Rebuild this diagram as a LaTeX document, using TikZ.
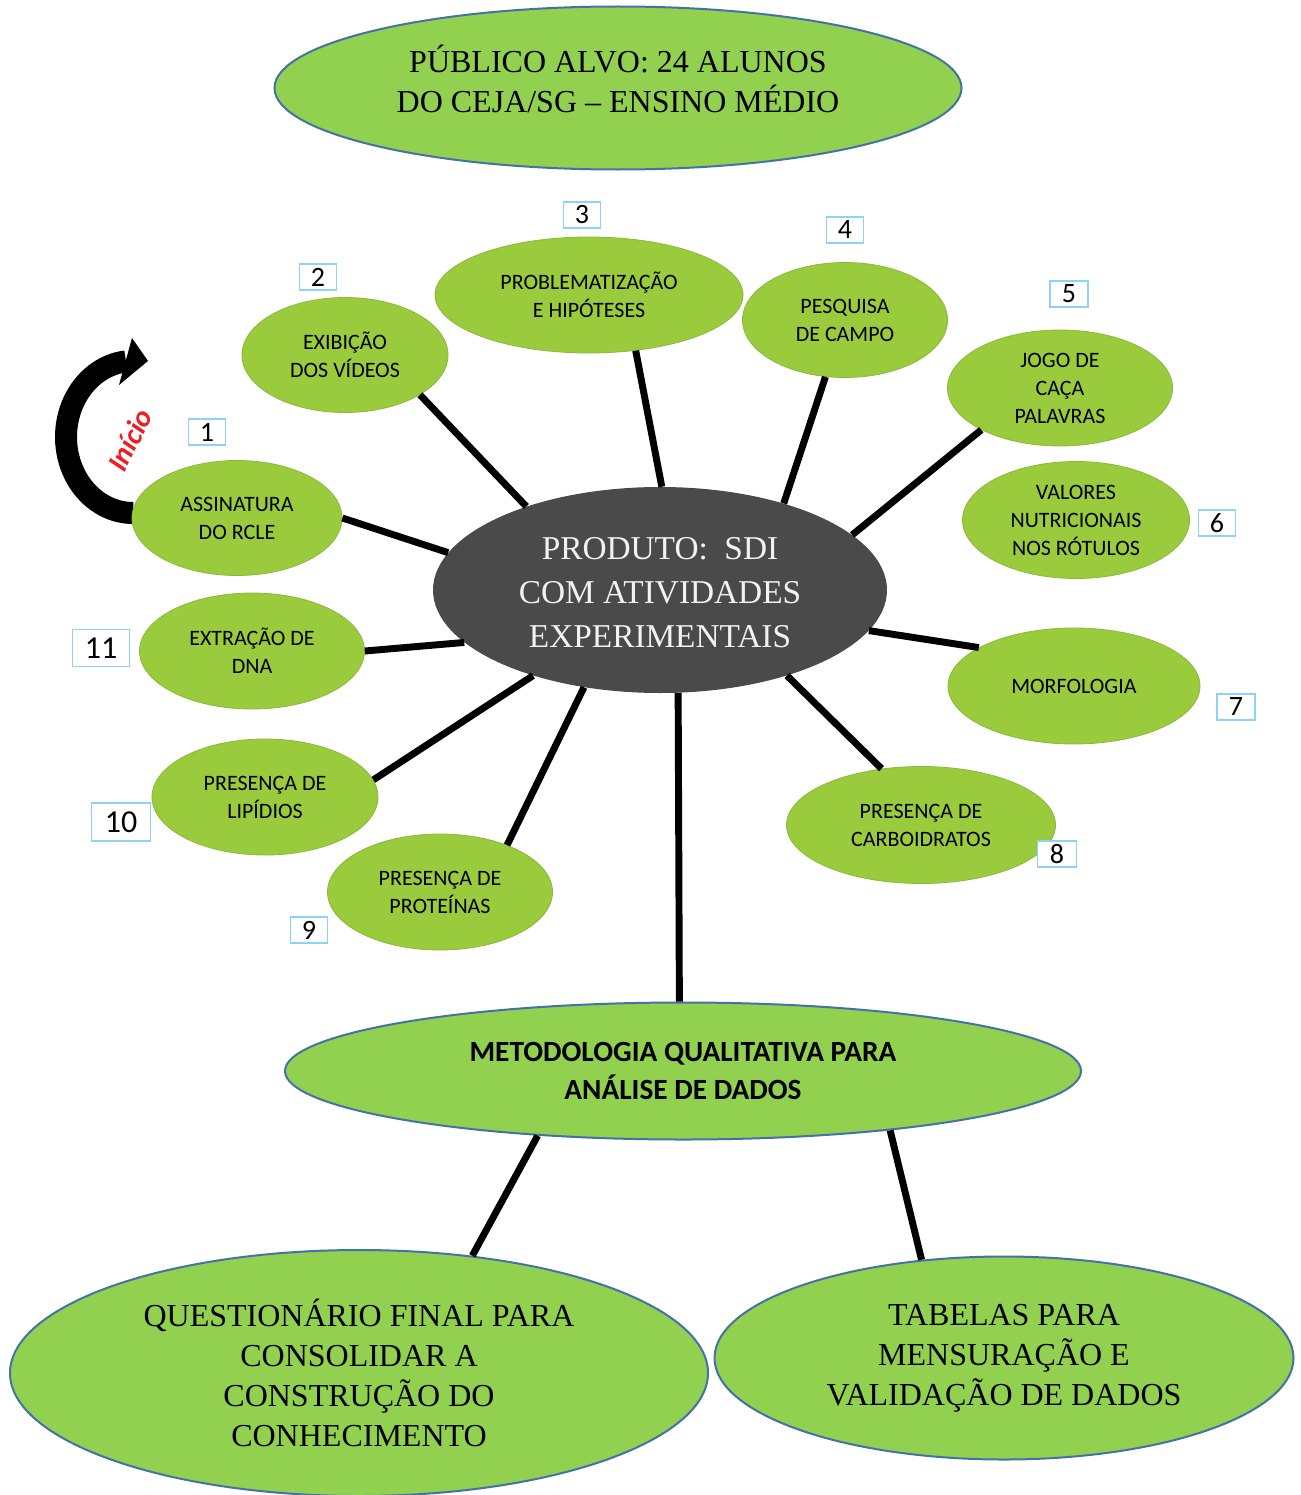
\documentclass[tikz,border=0pt]{standalone}
\usepackage{fontspec}
\setmainfont{Liberation Serif}
\newfontfamily\calib{Carlito}
\usetikzlibrary{shapes.geometric}
\definecolor{biggreen}{HTML}{92D050}
\definecolor{bigborder}{HTML}{4472A8}
\definecolor{smallgreen}{HTML}{9ACB3C}
\definecolor{smallborder}{HTML}{8CB83A}
\definecolor{centralgray}{HTML}{4A4A4A}
\definecolor{boxblue}{HTML}{8DD3F7}
\definecolor{iniciored}{HTML}{F01E23}
\begin{document}
\begin{tikzpicture}[x=0.75pt,y=-0.75pt,
 sell/.style 2 args={ellipse, fill=smallgreen, draw=smallborder, line width=0.6pt, inner sep=0pt,
   minimum width=#1*0.75pt, minimum height=#2*0.75pt, align=center,
   font=\calib\fontsize{16.5pt}{21pt}\selectfont},
 bell/.style 2 args={ellipse, fill=biggreen, draw=bigborder, line width=1.5pt, inner sep=0pt,
   minimum width=#1*0.75pt, minimum height=#2*0.75pt, align=center},
 serifbig/.style={font=\fontsize{24pt}{30pt}\selectfont, align=center},
 link/.style={line width=5.2pt, black},
 numbox/.style 2 args={draw=boxblue, fill=white, line width=1.1pt, inner sep=0pt,
   minimum width=#1*0.75pt, minimum height=#2*0.75pt},
 numfont/.style={font=\calib\fontsize{21pt}{21pt}\selectfont},
 numfontbig/.style={font=\calib\fontsize{24pt}{24pt}\selectfont}
]
\useasboundingbox (0,0) rectangle (1301,1495);

% start arrow
\draw[line width=16.5pt, black] plot[domain=90:264, samples=50] ({133+67*cos(\x)},{437+76*sin(\x)});
\fill[black] (132,338) -- (148,361) -- (119,385) -- cycle;
\node[rotate=63, text=iniciored, font=\calib\bfseries\itshape\fontsize{22pt}{22pt}\selectfont] (inicio) at (130,440) {Início};

% top
\node[bell={687}{163}] (top) at (618,88) {};
\node[serifbig] (toptext) at (618,79) {PÚBLICO ALVO: 24 ALUNOS\\DO CEJA/SG -- ENSINO MÉDIO};

% central
\node[ellipse, fill=centralgray, inner sep=0pt, minimum width=454*0.75pt, minimum height=206*0.75pt] (c) at (660,590) {};
\node[align=center, text=white!95!black, font=\fontsize{25pt}{33pt}\selectfont] (ctext) at (660,593)
  {PRODUTO:\ \ SDI\\COM ATIVIDADES\\EXPERIMENTAIS};

% activities
\node[sell={210}{115}] (n1) at (237,518) {ASSINATURA\\DO RCLE};
\node[sell={206}{115}] (n2) at (345,355) {EXIBIÇÃO\\DOS VÍDEOS};
\node[sell={308}{116}] (n3) at (589,295) {PROBLEMATIZAÇÃO\\E HIPÓTESES};
\node[sell={205}{115}] (n4) at (845,320) {PESQUISA\\DE CAMPO};
\node[sell={225}{116}] (n5) at (1060,388) {JOGO DE\\CAÇA\\PALAVRAS};
\node[sell={227}{117}] (n6) at (1076,520) {VALORES\\NUTRICIONAIS\\NOS RÓTULOS};
\node[sell={252}{116}] (n7) at (1074,686) {MORFOLOGIA};
\node[sell={269}{117}] (n8) at (921,825) {PRESENÇA DE\\CARBOIDRATOS};
\node[sell={225}{116}] (n9) at (440,892) {PRESENÇA DE\\PROTEÍNAS};
\node[sell={226}{116}] (n10) at (265,797) {PRESENÇA DE\\LIPÍDIOS};
\node[sell={225}{116}] (n11) at (252,651) {EXTRAÇÃO DE\\DNA};

% bottom part
\node[bell={796}{137}, font=\calib\bfseries\fontsize{22pt}{28.5pt}\selectfont] (met) at (683,1071)
  {METODOLOGIA QUALITATIVA PARA\\ANÁLISE DE DADOS};
\node[bell={698}{246}, serifbig] (q) at (359,1373)
  {QUESTIONÁRIO FINAL PARA\\CONSOLIDAR A\\CONSTRUÇÃO DO\\CONHECIMENTO};
\node[bell={579}{203}, serifbig] (tab) at (1004,1358)
  {TABELAS PARA\\MENSURAÇÃO E\\VALIDAÇÃO DE DADOS};

% connectors
\draw[link] (c.170) -- (n1.0);
\draw[link] (c.148) -- (n2.-28);
\draw[link] (c.89) -- (n3.-50);
\draw[link] (c.35) -- (n4.-109);
\draw[link] (c.16) -- (n5.208);
\draw[link] (c.-11) -- (n7.158);
\draw[link] (c.-34) -- (n8.125);
\draw[link] (c.232) -- (n9.35);
\draw[link] (c.214) -- (n10.9);
\draw[link] (c.195) -- (n11.0);
\draw[link] (c.280) -- (met.93);
\draw[link] (met.204) -- (q.46);
\draw[link] (met.-16) -- (tab.130);

% number boxes
\node[numbox={37}{26}, numfont] (b1) at (207,432) {1};
\node[numbox={37}{26}, numfont] (b2) at (318,277) {2};
\node[numbox={37}{26}, numfont] (b3) at (582,215) {3};
\node[numbox={37}{26}, numfont] (b4) at (845,230) {4};
\node[numbox={38}{26}, numfont] (b5) at (1069,294) {5};
\node[numbox={37}{26}, numfont] (b6) at (1217,523) {6};
\node[numbox={38}{26}, numfont] (b7) at (1236,707) {7};
\node[numbox={39}{26}, numfont] (b8) at (1057,854) {8};
\node[numbox={37}{26}, numfont] (b9) at (309,930) {9};
\node[numbox={59}{38}, numfontbig] (b10) at (121,822) {10};
\node[numbox={57}{37}, numfontbig] (b11) at (101,648) {11};
\end{tikzpicture}
\end{document}
